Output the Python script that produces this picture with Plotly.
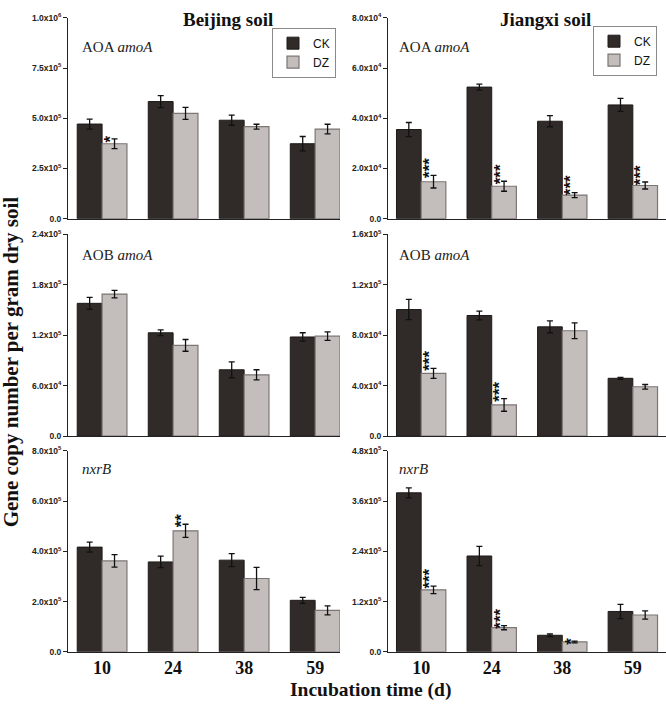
import plotly.graph_objects as go
from plotly.subplots import make_subplots

days = ["10", "24", "38", "59"]

# ---- Beijing soil ----
bj_aoa_ck = [4.71e5, 5.83e5, 4.90e5, 3.73e5]
bj_aoa_ck_err = [0.25e5, 0.30e5, 0.25e5, 0.36e5]
bj_aoa_dz = [3.73e5, 5.24e5, 4.58e5, 4.46e5]
bj_aoa_dz_err = [0.24e5, 0.30e5, 0.12e5, 0.24e5]
bj_aoa_sig = ["*", "", "", ""]

bj_aob_ck = [1.58e5, 1.23e5, 7.9e4, 1.18e5]
bj_aob_ck_err = [0.7e4, 0.35e4, 0.95e4, 0.5e4]
bj_aob_dz = [1.69e5, 1.08e5, 7.3e4, 1.19e5]
bj_aob_dz_err = [0.45e4, 0.7e4, 0.6e4, 0.5e4]
bj_aob_sig = ["", "", "", ""]

bj_nxr_ck = [4.17e5, 3.58e5, 3.65e5, 2.05e5]
bj_nxr_ck_err = [0.20e5, 0.23e5, 0.26e5, 0.12e5]
bj_nxr_dz = [3.62e5, 4.82e5, 2.92e5, 1.65e5]
bj_nxr_dz_err = [0.25e5, 0.26e5, 0.44e5, 0.18e5]
bj_nxr_sig = ["", "**", "", ""]

# ---- Jiangxi soil ----
jx_aoa_ck = [3.55e4, 5.24e4, 3.88e4, 4.53e4]
jx_aoa_ck_err = [0.28e4, 0.12e4, 0.22e4, 0.26e4]
jx_aoa_dz = [1.47e4, 1.29e4, 0.94e4, 1.32e4]
jx_aoa_dz_err = [0.25e4, 0.20e4, 0.10e4, 0.14e4]
jx_aoa_sig = ["***", "***", "***", "***"]

jx_aob_ck = [1.004e5, 9.57e4, 8.67e4, 4.59e4]
jx_aob_ck_err = [0.8e4, 0.34e4, 0.47e4, 0.08e4]
jx_aob_dz = [4.98e4, 2.48e4, 8.36e4, 3.92e4]
jx_aob_dz_err = [0.4e4, 0.5e4, 0.62e4, 0.18e4]
jx_aob_sig = ["***", "***", "", ""]

jx_nxr_ck = [3.80e5, 2.29e5, 0.395e5, 0.964e5]
jx_nxr_ck_err = [0.12e5, 0.23e5, 0.03e5, 0.17e5]
jx_nxr_dz = [1.48e5, 0.577e5, 0.235e5, 0.88e5]
jx_nxr_dz_err = [0.09e5, 0.05e5, 0.02e5, 0.10e5]
jx_nxr_sig = ["***", "***", "*", ""]

# axis ticks
bj_aoa_ticks = [0, 2.5e5, 5.0e5, 7.5e5, 1.0e6]
bj_aoa_text = ["0.0", "2.5x10<sup>5</sup>", "5.0x10<sup>5</sup>", "7.5x10<sup>5</sup>", "1.0x10<sup>6</sup>"]
jx_aoa_ticks = [0, 2.0e4, 4.0e4, 6.0e4, 8.0e4]
jx_aoa_text = ["0.0", "2.0x10<sup>4</sup>", "4.0x10<sup>4</sup>", "6.0x10<sup>4</sup>", "8.0x10<sup>4</sup>"]
bj_aob_ticks = [0, 6.0e4, 1.2e5, 1.8e5, 2.4e5]
bj_aob_text = ["0.0", "6.0x10<sup>4</sup>", "1.2x10<sup>5</sup>", "1.8x10<sup>5</sup>", "2.4x10<sup>5</sup>"]
jx_aob_ticks = [0, 4.0e4, 8.0e4, 1.2e5, 1.6e5]
jx_aob_text = ["0.0", "4.0x10<sup>4</sup>", "8.0x10<sup>4</sup>", "1.2x10<sup>5</sup>", "1.6x10<sup>5</sup>"]
bj_nxr_ticks = [0, 2.0e5, 4.0e5, 6.0e5, 8.0e5]
bj_nxr_text = ["0.0", "2.0x10<sup>5</sup>", "4.0x10<sup>5</sup>", "6.0x10<sup>5</sup>", "8.0x10<sup>5</sup>"]
jx_nxr_ticks = [0, 1.2e5, 2.4e5, 3.6e5, 4.8e5]
jx_nxr_text = ["0.0", "1.2x10<sup>5</sup>", "2.4x10<sup>5</sup>", "3.6x10<sup>5</sup>", "4.8x10<sup>5</sup>"]

panel_labels = ["AOA <i>amoA</i>", "AOA <i>amoA</i>", "AOB <i>amoA</i>", "AOB <i>amoA</i>",
                "<i>nxrB</i>", "<i>nxrB</i>"]

panels = [
    (bj_aoa_ck, bj_aoa_ck_err, bj_aoa_dz, bj_aoa_dz_err, bj_aoa_sig, bj_aoa_ticks, bj_aoa_text, 1, 1),
    (jx_aoa_ck, jx_aoa_ck_err, jx_aoa_dz, jx_aoa_dz_err, jx_aoa_sig, jx_aoa_ticks, jx_aoa_text, 1, 2),
    (bj_aob_ck, bj_aob_ck_err, bj_aob_dz, bj_aob_dz_err, bj_aob_sig, bj_aob_ticks, bj_aob_text, 2, 1),
    (jx_aob_ck, jx_aob_ck_err, jx_aob_dz, jx_aob_dz_err, jx_aob_sig, jx_aob_ticks, jx_aob_text, 2, 2),
    (bj_nxr_ck, bj_nxr_ck_err, bj_nxr_dz, bj_nxr_dz_err, bj_nxr_sig, bj_nxr_ticks, bj_nxr_text, 3, 1),
    (jx_nxr_ck, jx_nxr_ck_err, jx_nxr_dz, jx_nxr_dz_err, jx_nxr_sig, jx_nxr_ticks, jx_nxr_text, 3, 2),
]

CK_COLOR = "#302b28"
DZ_COLOR = "#c3bebb"
SERIF = "Liberation Serif"
SANS = "Liberation Sans"

W, H = 666, 707
def px_x(p):
    return p / W
def px_y(p):
    return 1 - p / H

fig = make_subplots(rows=3, cols=2)

x_domains = {1: [px_x(68), px_x(340)], 2: [px_x(388), 1.0]}
y_domains = {1: [px_y(216), px_y(12)], 2: [px_y(437), px_y(232)], 3: [px_y(656), px_y(452)]}
x_ranges = {1: [-0.48, 3.35], 2: [-0.47, 3.47]}

annotations = []
for idx, (ck, ckerr, dz, dzerr, sig, tv, tt, r, c) in enumerate(panels):
    n = idx + 1
    axs = "" if n == 1 else str(n)
    legend_name = "legend" if n == 1 else ("legend2" if n == 2 else None)
    show = legend_name is not None
    fig.add_trace(go.Bar(
        x=days, y=ck, name="CK", marker=dict(color=CK_COLOR, line=dict(color="#1e1a18", width=1)),
        error_y=dict(type="data", array=ckerr, color="#111111", thickness=1.3, width=3),
        showlegend=show, legend=legend_name if show else "legend",
    ), row=r, col=c)
    fig.add_trace(go.Bar(
        x=days, y=dz, name="DZ", marker=dict(color=DZ_COLOR, line=dict(color="#7b7674", width=1.2)),
        error_y=dict(type="data", array=dzerr, color="#111111", thickness=1.3, width=3),
        showlegend=show, legend=legend_name if show else "legend",
    ), row=r, col=c)

    fig.update_xaxes(domain=x_domains[c], range=x_ranges[c], type="category",
                     showline=True, linecolor="#222222", linewidth=1, ticks="",
                     showticklabels=(r == 3), showgrid=False, zeroline=False,
                     tickfont=dict(family=SERIF, size=18, color="#111111"),
                     ticklabelstandoff=0,
                     tickprefix="<b>", ticksuffix="</b>", row=r, col=c)
    fig.update_yaxes(domain=y_domains[r], range=[0, tv[-1]], tickvals=tv, ticktext=tt,
                     showline=True, linecolor="#222222", linewidth=1, ticks="outside",
                     ticklen=4, tickcolor="#222222", showgrid=False, zeroline=False,
                     tickfont=dict(family=SANS, size=8.5, color="#222222", weight="bold"),
                     row=r, col=c)

    # panel label
    lx = 80 if c == 1 else 397
    ly = {1: 42, 2: 253, 3: 470}[r]
    annotations.append(dict(text=panel_labels[idx], xref="paper", yref="paper",
                            x=px_x(lx), y=px_y(ly), xanchor="left", yanchor="middle",
                            showarrow=False, font=dict(family=SERIF, size=15, color="#222222")))

    # significance stars, stacked vertically as one rotated string
    for i, s in enumerate(sig):
        if not s:
            continue
        k = len(s)
        annotations.append(dict(text=s, xref="x" + axs, yref="y" + axs,
                                x=i + 0.175, y=dz[i] + dzerr[i],
                                xshift=-4, yshift=3.5 * (k - 1),
                                textangle=-90,
                                xanchor="center", yanchor="middle", showarrow=False,
                                font=dict(family=SANS, size=17, color="#111111", weight="bold")))

annotations += [
    dict(text="<b>Beijing soil</b>", xref="paper", yref="paper", x=px_x(228), y=px_y(14),
         xanchor="center", yanchor="middle", showarrow=False,
         font=dict(family=SERIF, size=19, color="#111111")),
    dict(text="<b>Jiangxi soil</b>", xref="paper", yref="paper", x=px_x(545), y=px_y(14),
         xanchor="center", yanchor="middle", showarrow=False,
         font=dict(family=SERIF, size=19, color="#111111")),
    dict(text="<b>Gene copy number per gram dry soil</b>", xref="paper", yref="paper",
         x=px_x(11), y=px_y(362), xanchor="center", yanchor="middle", textangle=-90,
         showarrow=False, font=dict(family=SERIF, size=21, color="#111111")),
    dict(text="<b>Incubation time (d)</b>", xref="paper", yref="paper",
         x=px_x(370), y=0, xanchor="center", yanchor="bottom", yshift=-1,
         showarrow=False, font=dict(family=SERIF, size=19.5, color="#111111")),
]

legend_style = dict(bgcolor="white", bordercolor="#8a8a8a", borderwidth=1,
                    font=dict(family=SANS, size=12, color="#111111"),
                    tracegroupgap=0, itemwidth=30, xanchor="left", yanchor="top")

fig.update_layout(
    width=W, height=H,
    margin=dict(l=0, r=0, t=0, b=0),
    plot_bgcolor="white", paper_bgcolor="white",
    barmode="group", bargap=0.3, bargroupgap=0,
    annotations=annotations,
    legend=dict(x=px_x(272), y=px_y(22), **legend_style),
    legend2=dict(x=px_x(593), y=px_y(20), **legend_style),
)

fig.write_html("out.html", config={"displayModeBar": False},
               post_script="document.body.style.margin='0px';document.body.style.overflow='hidden';")
